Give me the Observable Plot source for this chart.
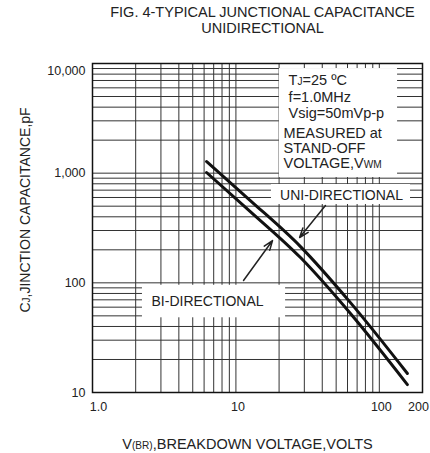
<!DOCTYPE html>
<html>
<head>
<meta charset="utf-8">
<script src="https://cdn.jsdelivr.net/npm/d3@7"></script>
<script src="https://cdn.jsdelivr.net/npm/@observablehq/plot@0.6"></script>
<style>
  html, body { margin: 0; padding: 0; background: #fff; }
</style>
</head>
<body>
<div id="chart"></div>
<script>
// ---- data ----
const vbr      = [6.24, 12.6, 28.2, 62.9, 157];      // breakdown voltage, V
const uniCap   = [1277, 563, 214, 66, 14.9];          // uni-directional Cj, pF
const biCap    = [1014, 447, 170, 52.5, 11.8];        // bi-directional Cj, pF

const xTickValues = [1, 10, 100, 200];
const xTickLabels = ["1.0", "10", "100", "200"];
const yTickValues = [10, 100, 1000, 10000];
const yTickLabels = ["10", "100", "1,000", "10,000"];

const xGrid = [2, 3, 4, 5, 6, 7, 8, 9, 10, 20, 30, 40, 50, 60, 70, 80, 90, 100];
const yGrid = [20, 30, 40, 50, 60, 70, 80, 90, 100, 200, 300, 400, 500, 600, 700, 800, 900,
               1000, 2000, 3000, 4000, 5000, 6000, 7000, 8000, 9000];

const titleLines = ["FIG. 4-TYPICAL JUNCTIONAL CAPACITANCE", "UNIDIRECTIONAL"];
const xTitle = "V{(BR)},BREAKDOWN VOLTAGE,VOLTS";
const yTitle = "C{J},JINCTION CAPACITANCE,pF";
const condTexts = ["T{J}=25 ºC", "f=1.0MHz", "Vsig=50mVp-p", "MEASURED at", "STAND-OFF", "VOLTAGE,V{WM}"];
const seriesNames = ["UNI-DIRECTIONAL", "BI-DIRECTIONAL"];

// ---- annotation layout (in data coordinates) ----
const layout = {
  condBox: {x1: 20.1, x2: 134, y1: 913, y2: 8995},
  condX: [23.3, 23.3, 23.3, 21.5, 21.5, 21.5],
  condY: [6998, 4928, 3478, 2286, 1668, 1217],
  uniBox: {x1: 17.7, x2: 165, y1: 518, y2: 788},
  uniLabel: {x: 54.5, y: 626},
  biBox: {x1: 2.23, x2: 22.2, y1: 48, y2: 95},
  biLabel: {x: 6.34, y: 68},
  uniArrow: {x1: 42.1, y1: 507, x2: 27.8, y2: 259},
  biArrow: {x1: 11.3, y1: 105, x2: 18.0, y2: 243}
};

const uni = vbr.map((v, i) => ({v, c: uniCap[i]}));
const bi  = vbr.map((v, i) => ({v, c: biCap[i]}));
const cond = condTexts.map((t, i) => ({t, x: layout.condX[i], y: layout.condY[i]}));
const boxes = [layout.condBox, layout.uniBox, layout.biBox];
const labels = [
  {t: seriesNames[0], ...layout.uniLabel},
  {t: seriesNames[1], ...layout.biLabel}
];
const arrows = [layout.uniArrow, layout.biArrow];

const ink = "#222";
const gridInk = "#333";

const chart = Plot.plot({
  width: 430,
  height: 453,
  marginLeft: 92,
  marginRight: 8,
  marginTop: 63,
  marginBottom: 61,
  style: {fontFamily: "'Liberation Sans', Arial, Helvetica, sans-serif", color: ink, background: "#fff"},
  x: {type: "log", domain: [1, 200], label: null},
  y: {type: "log", domain: [10, 10000], label: null},
  marks: [
    Plot.ruleX(xGrid, {stroke: gridInk, strokeWidth: 1}),
    Plot.ruleY(yGrid, {stroke: gridInk, strokeWidth: 1}),
    Plot.rect(boxes, {x1: "x1", x2: "x2", y1: "y1", y2: "y2", fill: "#fff"}),
    Plot.line(uni, {x: "v", y: "c", stroke: "#111", strokeWidth: 3, curve: "monotone-x"}),
    Plot.line(bi, {x: "v", y: "c", stroke: "#111", strokeWidth: 3, curve: "monotone-x"}),
    Plot.arrow(arrows, {x1: "x1", y1: "y1", x2: "x2", y2: "y2", stroke: ink, strokeWidth: 1.5, headLength: 10, headAngle: 40}),
    Plot.text(cond, {x: "x", y: "y", text: "t", textAnchor: "start", lineAnchor: "middle", fontSize: 14.5, fill: ink}),
    Plot.text(labels, {x: "x", y: "y", text: "t", lineAnchor: "middle", fontSize: 14, fill: ink}),
    Plot.frame({stroke: "#111", strokeWidth: 1.5}),
    // axes
    Plot.axisX([xTickValues[0]], {tickSize: 0, tickPadding: 10, fontSize: 12.5, dx: 6, label: null,
      tickFormat: d => xTickLabels[xTickValues.indexOf(d)]}),
    Plot.axisX(xTickValues.slice(1, 3), {tickSize: 0, tickPadding: 10, fontSize: 12.5, dx: 2, label: null,
      tickFormat: d => xTickLabels[xTickValues.indexOf(d)]}),
    Plot.axisX([xTickValues[3]], {tickSize: 0, tickPadding: 10, fontSize: 12.5, dx: -4, label: null,
      tickFormat: d => xTickLabels[xTickValues.indexOf(d)]}),
    Plot.axisY(yTickValues.slice(0, 3), {tickSize: 0, tickPadding: 7, fontSize: 12.5, label: null,
      tickFormat: d => yTickLabels[yTickValues.indexOf(d)]}),
    Plot.axisY([yTickValues[3]], {tickSize: 0, tickPadding: 7, fontSize: 12.5, dy: 7, label: null,
      tickFormat: d => yTickLabels[yTickValues.indexOf(d)]}),
    // titles
    Plot.text([titleLines[0]], {frameAnchor: "top", textAnchor: "middle", lineAnchor: "middle", dx: 5, dy: -51, fontSize: 14.5, fill: ink}),
    Plot.text([titleLines[1]], {frameAnchor: "top", textAnchor: "middle", lineAnchor: "middle", dx: 5, dy: -35, fontSize: 14.5, fill: ink}),
    Plot.text([xTitle], {frameAnchor: "bottom", textAnchor: "middle", lineAnchor: "middle", dx: -10, dy: 52, fontSize: 14.5, fill: ink}),
    Plot.text([yTitle], {frameAnchor: "left", textAnchor: "middle", lineAnchor: "middle", dx: -67, dy: -18, rotate: -90, fontSize: 14, fill: ink})
  ]
});

// small-caps segments marked with {...}
d3.select(chart).selectAll("text").each(function () {
  const s = this.textContent;
  if (!s || !s.includes("{")) return;
  const parts = s.split(/(\{[^}]*\})/).filter(p => p.length);
  const el = d3.select(this);
  el.text(null);
  const fs = parseFloat(el.attr("font-size")) || parseFloat(getComputedStyle(this).fontSize) || 14;
  parts.forEach(p => {
    if (p.startsWith("{")) {
      el.append("tspan").attr("font-size", (fs * 0.72).toFixed(1)).text(p.slice(1, -1));
    } else {
      el.append("tspan").text(p);
    }
  });
});

document.getElementById("chart").append(chart);
</script>
</body>
</html>
